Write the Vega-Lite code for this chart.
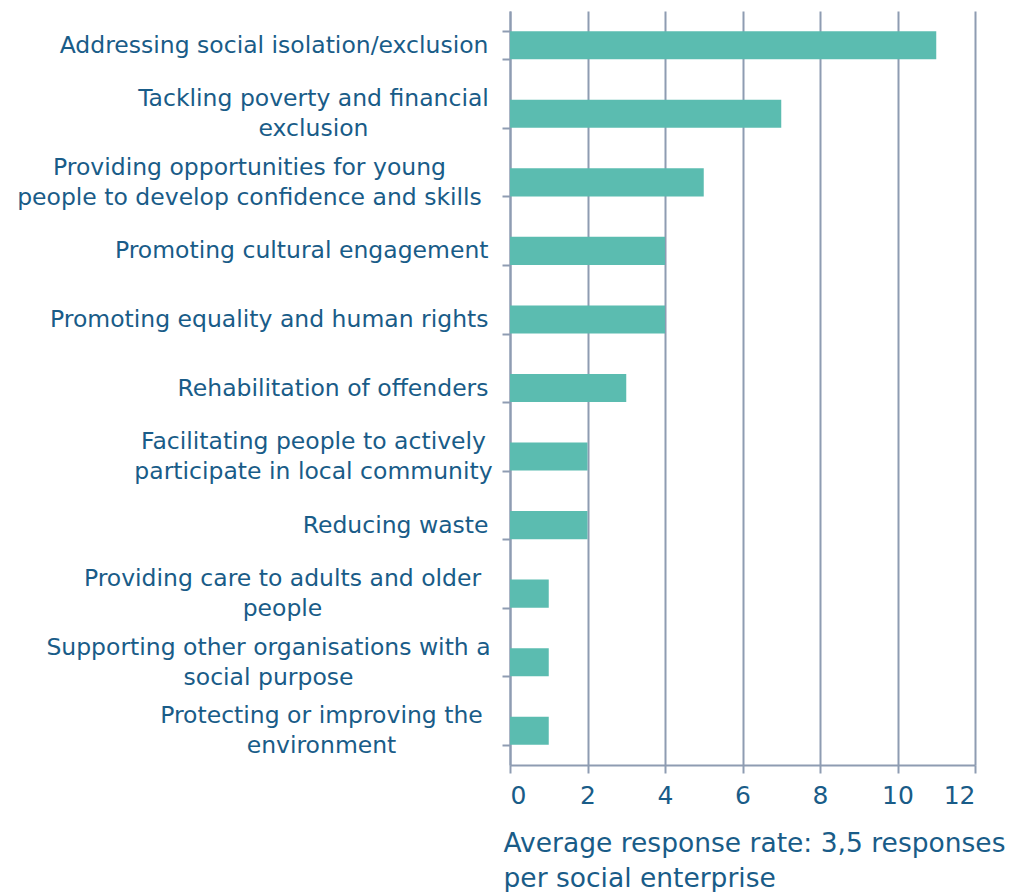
{
  "$schema": "https://vega.github.io/schema/vega-lite/v6.json",
  "autosize": "none",
  "width": 465,
  "height": 754,
  "padding": {"left": 510, "top": 11, "right": 37, "bottom": 127},
  "background": "white",
  "data": {
    "values": [
      {"cause": "Addressing social isolation/exclusion", "value": 11},
      {"cause": "Tackling poverty and financial|exclusion", "value": 7},
      {"cause": "Providing opportunities for young|people to develop confidence and skills", "value": 5},
      {"cause": "Promoting cultural engagement", "value": 4},
      {"cause": "Promoting equality and human rights", "value": 4},
      {"cause": "Rehabilitation of offenders", "value": 3},
      {"cause": "Facilitating people to actively|participate in local community", "value": 2},
      {"cause": "Reducing waste", "value": 2},
      {"cause": "Providing care to adults and older|people", "value": 1},
      {"cause": "Supporting other organisations with a|social purpose", "value": 1},
      {"cause": "Protecting or improving the|environment", "value": 1}
    ]
  },
  "config": {
    "view": {"stroke": null},
    "font": "DejaVu Sans",
    "axisY": {
      "title": null,
      "labelFont": "DejaVu Sans",
      "labelFontSize": 23.5,
      "labelColor": "#195C88",
      "labelLineHeight": 30,
      "labelLimit": 600,
      "tickBand": "extent",
      "tickSize": 8,
      "tickColor": "#8E9CB2",
      "tickWidth": 2,
      "domainColor": "#8E9CB2",
      "domainWidth": 2,
      "grid": false
    }
  },
  "resolve": {"axis": {"y": "independent"}},
  "encoding": {
    "x": {
      "field": "value",
      "type": "quantitative",
      "scale": {"domain": [0, 12], "nice": false},
      "axis": {
        "values": [0, 2, 4, 6, 8, 10, 12],
        "title": ["Average response rate: 3,5 responses", "per social enterprise"],
        "titleFont": "DejaVu Sans",
        "titleFontSize": 26.5,
        "titleFontWeight": "normal",
        "titleColor": "#195C88",
        "titleAnchor": "start",
        "titleAlign": "left",
        "titleX": -7,
        "titleLineHeight": 35,
        "titlePadding": 22,
        "labelFont": "DejaVu Sans",
        "labelFontSize": 25,
        "labelColor": "#195C88",
        "labelPadding": 10,
        "tickSize": 8,
        "tickColor": "#8E9CB2",
        "tickWidth": 2,
        "domainColor": "#8E9CB2",
        "domainWidth": 2,
        "grid": true,
        "gridColor": "#8E9CB2",
        "gridWidth": 2
      }
    }
  },
  "layer": [
    {
      "mark": {"type": "bar", "color": "#5BBCB0"},
      "encoding": {
        "y": {
          "field": "cause", "type": "nominal", "sort": null,
          "scale": {"paddingInner": 0.59, "paddingOuter": 0.295},
          "axis": {
            "orient": "left",
            "labelExpr": "indexof(datum.label, '|') >= 0 ? '' : datum.label",
            "labelAlign": "right",
            "labelPadding": 14
          }
        }
      }
    },
    {
      "mark": {"type": "bar", "color": "#5BBCB0", "opacity": 0},
      "encoding": {
        "y": {
          "field": "cause", "type": "nominal", "sort": null,
          "scale": {"paddingInner": 0.59, "paddingOuter": 0.295},
          "axis": {
            "orient": "left",
            "labelExpr": "indexof(datum.label, 'Tackling') == 0 || indexof(datum.label, 'Facilitating') == 0 ? split(datum.label, '|') : ''",
            "labelAlign": "center",
            "labelPadding": 189,
            "labelOffset": -15,
            "domain": false,
            "tickOpacity": 0
          }
        }
      }
    },
    {
      "mark": {"type": "bar", "color": "#5BBCB0", "opacity": 0},
      "encoding": {
        "y": {
          "field": "cause", "type": "nominal", "sort": null,
          "scale": {"paddingInner": 0.59, "paddingOuter": 0.295},
          "axis": {
            "orient": "left",
            "labelExpr": "indexof(datum.label, 'Protecting') == 0 ? split(datum.label, '|') : ''",
            "labelAlign": "center",
            "labelPadding": 181,
            "labelOffset": -15,
            "domain": false,
            "tickOpacity": 0
          }
        }
      }
    },
    {
      "mark": {"type": "bar", "color": "#5BBCB0", "opacity": 0},
      "encoding": {
        "y": {
          "field": "cause", "type": "nominal", "sort": null,
          "scale": {"paddingInner": 0.59, "paddingOuter": 0.295},
          "axis": {
            "orient": "left",
            "labelExpr": "indexof(datum.label, 'Providing care') == 0 ? split(datum.label, '|') : ''",
            "labelAlign": "center",
            "labelPadding": 220,
            "labelOffset": -15,
            "domain": false,
            "tickOpacity": 0
          }
        }
      }
    },
    {
      "mark": {"type": "bar", "color": "#5BBCB0", "opacity": 0},
      "encoding": {
        "y": {
          "field": "cause", "type": "nominal", "sort": null,
          "scale": {"paddingInner": 0.59, "paddingOuter": 0.295},
          "axis": {
            "orient": "left",
            "labelExpr": "indexof(datum.label, 'Supporting') == 0 ? split(datum.label, '|') : ''",
            "labelAlign": "center",
            "labelPadding": 234,
            "labelOffset": -15,
            "domain": false,
            "tickOpacity": 0
          }
        }
      }
    },
    {
      "mark": {"type": "bar", "color": "#5BBCB0", "opacity": 0},
      "encoding": {
        "y": {
          "field": "cause", "type": "nominal", "sort": null,
          "scale": {"paddingInner": 0.59, "paddingOuter": 0.295},
          "axis": {
            "orient": "left",
            "labelExpr": "indexof(datum.label, 'Providing opp') == 0 ? split(datum.label, '|') : ''",
            "labelAlign": "center",
            "labelPadding": 253,
            "labelOffset": -15,
            "domain": false,
            "tickOpacity": 0
          }
        }
      }
    }
  ]
}
